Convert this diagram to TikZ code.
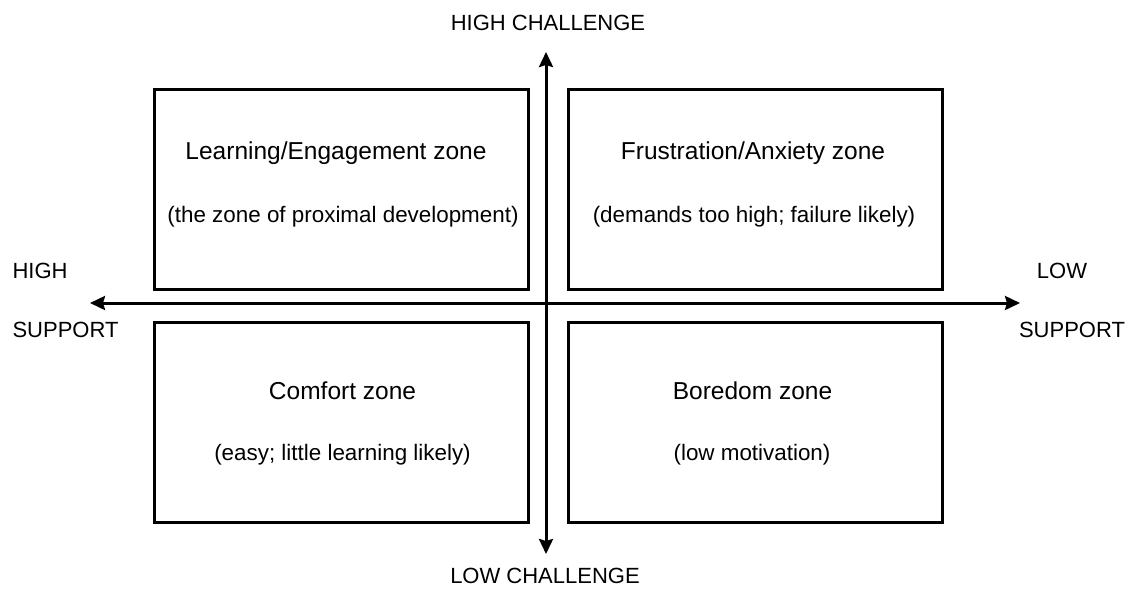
\documentclass[tikz,border=0pt]{standalone}
\usepackage{fontspec}
\setmainfont{Liberation Sans}
\usetikzlibrary{arrows.meta}
\begin{document}
\begin{tikzpicture}[
     x=1pt, y=-1pt,
     every node/.style={font=\fontsize{22}{26}\selectfont},
     zone/.style={draw, line width=3pt, minimum width=374pt, minimum height=200pt},
     title/.style={anchor=base, font=\fontsize{24.5}{29}\selectfont},
     sub/.style={anchor=base, font=\fontsize{22.4}{27}\selectfont},
     axis/.style={line width=3pt,
       {Stealth[length=15pt,width=14pt,inset=2pt]}-{Stealth[length=15pt,width=14pt,inset=2pt]}}
   ]
   \path[use as bounding box] (0,0) rectangle (1131,589);
   % Quadrants.
   \node[zone] (learn) at (341,189) {};
   \node[zone] (frust) at (755,189) {};
   \node[zone] (comfort) at (341,422) {};
   \node[zone] (bored) at (755,422) {};
   \node[title] (learnt) at (336,159.5) {Learning/Engagement zone};
   \node[sub] (learns) at (343,222.5) {(the zone of proximal development)};
   \node[title] (frustt) at (753,159.5) {Frustration/Anxiety zone};
   \node[sub] (frusts) at (754,222.5) {(demands too high; failure likely)};
   \node[title] (comfortt) at (342.5,399.3) {Comfort zone};
   \node[sub] (comforts) at (342.5,460) {(easy; little learning likely)};
   \node[title] (boredt) at (752.5,399.3) {Boredom zone};
   \node[sub] (boreds) at (752,460) {(low motivation)};
   % Axes.
   \coordinate (top) at (546,52);
   \coordinate (bottom) at (546,554);
   \coordinate (left) at (90,303);
   \coordinate (right) at (1020,303);
   \draw[axis] (top) -- (bottom);
   \draw[axis] (left) -- (right);
   % Axis labels.
   \node (hichal) at (548,22.5) {HIGH CHALLENGE};
   \node (lochal) at (545,576) {LOW CHALLENGE};
   \node[anchor=west] (hisup) at (9,270.5) {HIGH};
   \node[anchor=west] (hisupb) at (9,330) {SUPPORT};
   \node (losup) at (1062,270.5) {LOW};
   \node (losupb) at (1072,330) {SUPPORT};
 \end{tikzpicture}
\end{document}
